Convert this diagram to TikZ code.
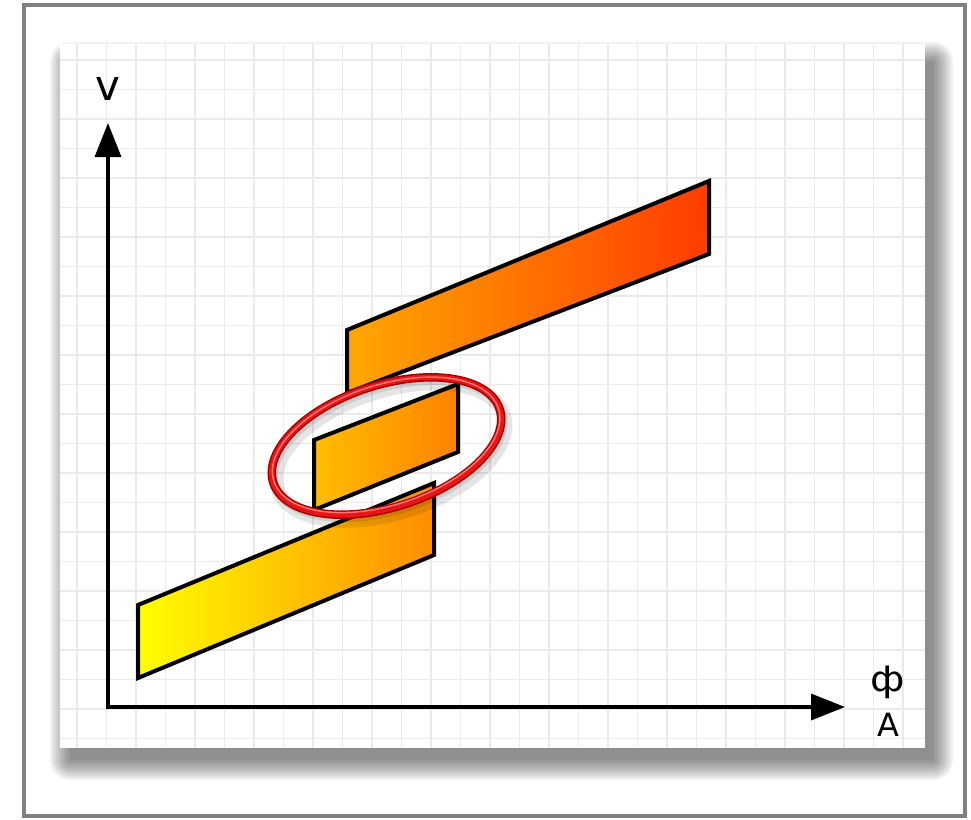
\documentclass[tikz,border=0pt]{standalone}
\usepackage{fontspec}
\setmainfont{DejaVu Sans}
\usetikzlibrary{arrows.meta}

\definecolor{framegray}{RGB}{128,128,128}
\definecolor{gridgray}{RGB}{234,234,234}
\definecolor{lowleft}{RGB}{255,255,0}
\definecolor{lowright}{RGB}{255,140,0}
\definecolor{midleft}{RGB}{255,190,0}
\definecolor{midright}{RGB}{255,130,0}
\definecolor{topleft}{RGB}{255,168,0}
\definecolor{topright}{RGB}{255,60,0}
\definecolor{ringdark}{RGB}{165,0,0}
\definecolor{ringred}{RGB}{235,20,20}
\definecolor{ringlight}{RGB}{255,140,140}

\begin{document}
\begin{tikzpicture}[x=1pt,y=-1pt,
    gridline/.style={draw=gridgray, line width=1.5pt},
    axis/.style={line width=3.5pt, line join=miter,
      {Triangle[length=34pt,width=26pt]}-{Triangle[length=34pt,width=26pt]}},
    band/.style={draw=black, line width=4pt, line join=miter},
    axislabel/.style={inner sep=0pt}]
  \useasboundingbox (0,0) rectangle (971,819);

  % Outer frame
  \draw[framegray, line width=4pt] (24,4.5) rectangle (965,815.5);

  % Paper shadow
  \foreach \r in {0,2,...,20}
    \fill[black, opacity=0.05, rounded corners=\r pt] (70-\r,62-\r) rectangle (933+\r,760+\r);

  % Paper and grid
  \fill[white] (60,44) rectangle (925,748);
  \foreach \gx in {0,...,28}
    \draw[gridline] ({77+29.5*\gx},44) -- ++(0,704);
  \foreach \gy in {0,...,23}
    \draw[gridline] (60,{60+29.5*\gy}) -- ++(865,0);

  % Axes
  \coordinate (origin) at (108,707);
  \coordinate (vtip) at (108,123);
  \coordinate (htip) at (845,707);
  \draw[axis] (vtip) -- (origin) -- (htip);

  % Axis labels
  \node[axislabel, font=\fontsize{42}{46}\selectfont] (vlabel) at (108,89) {v};
  \node[axislabel, font=\fontsize{35}{38}\selectfont, xscale=1.15] (philabel) at (888,682) {ф};
  \node[axislabel, font=\fontsize{32}{35}\selectfont] (alabel) at (888,725) {A};

  % Bands
  \draw[band, left color=lowleft, right color=lowright]
    (138,605) -- (434,483) -- (434,555) -- (138,678) -- cycle;
  \draw[band, left color=midleft, right color=midright]
    (314,440) -- (458,384) -- (458,452) -- (314,510) -- cycle;
  \draw[band, left color=topleft, right color=topright]
    (347,330) -- (709,181) -- (709,254) -- (347,393) -- cycle;

  % Red ring
  \begin{scope}[shift={(386.5,446)}, rotate=18]
    \draw[black, opacity=0.10, line width=14pt] (2,7) ellipse (119 and 61);
    \draw[black, opacity=0.10, line width=8pt] (1,4) ellipse (119 and 61);
    \draw[ringdark, line width=8.5pt] (0,0) ellipse (119 and 61);
    \draw[ringred, line width=5.5pt] (0,0) ellipse (119 and 61);
    \draw[ringlight, line width=1.5pt, opacity=0.8] (0,-1.2) ellipse (118 and 60);
  \end{scope}
\end{tikzpicture}
\end{document}
